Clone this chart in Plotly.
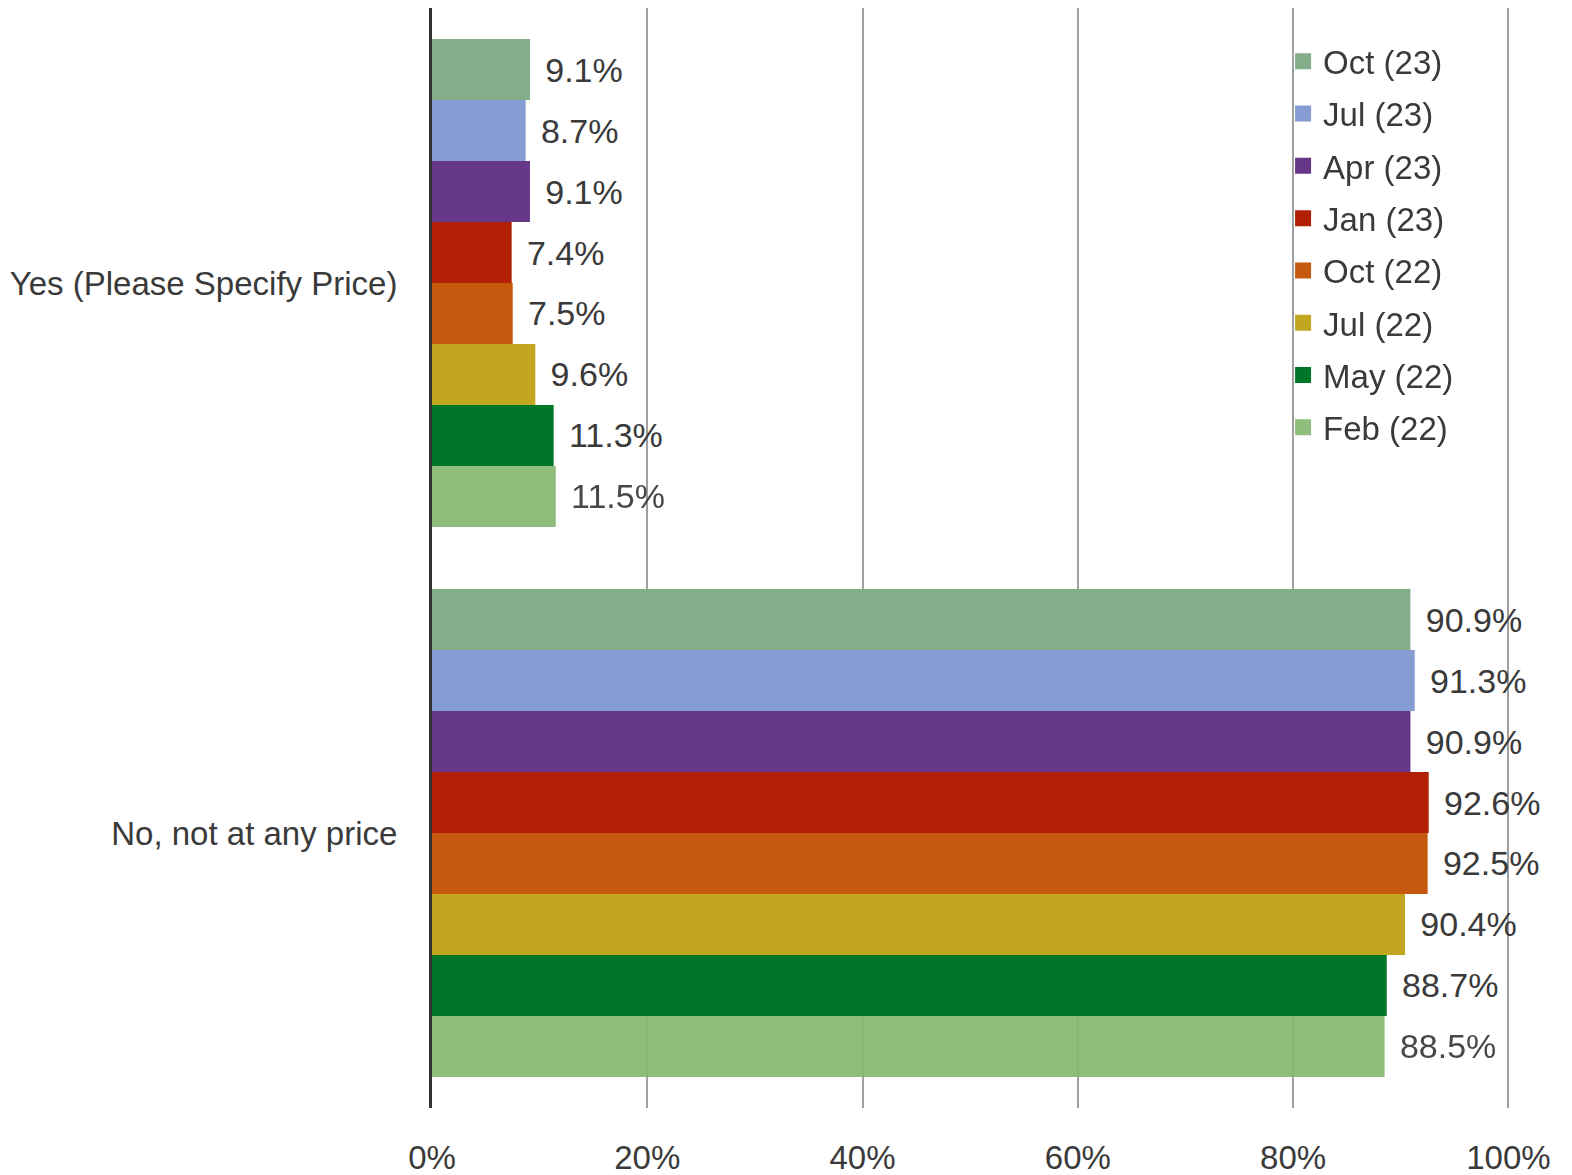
import plotly.graph_objects as go

categories = ["Yes (Please Specify Price)", "No, not at any price"]
series_names = ["Oct (23)", "Jul (23)", "Apr (23)", "Jan (23)", "Oct (22)", "Jul (22)", "May (22)", "Feb (22)"]
yes_values = [9.1, 8.7, 9.1, 7.4, 7.5, 9.6, 11.3, 11.5]
no_values = [90.9, 91.3, 90.9, 92.6, 92.5, 90.4, 88.7, 88.5]
colors = ["#84ae89", "#869dd3", "#673788", "#b11f05", "#c55a0e", "#c3a620", "#007728", "#86b973"]
opacities = [1, 1, 1, 1, 1, 1, 1, 0.93]
x_tickvals = [0, 20, 40, 60, 80, 100]
x_ticktext = ["0%", "20%", "40%", "60%", "80%", "100%"]

FONT = "Liberation Sans, Arial, sans-serif"
TXT = "#3a3a3a"

fig = go.Figure()
for i, name in enumerate(series_names):
    vals = [yes_values[i], no_values[i]]
    fig.add_trace(go.Bar(
        y=categories, x=vals, orientation="h", name=name,
        legendgroup=name, showlegend=False,
        marker=dict(color=colors[i], line=dict(width=0)),
        opacity=opacities[i],
        text=["\u00a0\u200a" + f"{v:.1f}%" for v in vals],
        textposition="outside", cliponaxis=False,
        textfont=dict(family=FONT, size=34, color=TXT),
        constraintext="none",
    ))

# legend proxies (larger square swatches)
for i, name in enumerate(series_names):
    fig.add_trace(go.Scatter(
        x=[None], y=[None], mode="markers", name=name, legendgroup=name,
        showlegend=True,
        marker=dict(symbol="square", size=18, color=colors[i], opacity=opacities[i],
                    line=dict(width=0)),
    ))

fig.update_layout(
    width=1564, height=1167,
    margin=dict(l=424, r=62, t=0, b=67),
    barmode="group", bargap=0.113, bargroupgap=0,
    plot_bgcolor="white", paper_bgcolor="white",
    font=dict(family=FONT, size=33, color=TXT),
    showlegend=True,
    legend=dict(
        x=0.7895, y=0.977, xanchor="left", yanchor="top",
        bgcolor="rgba(0,0,0,0)", traceorder="grouped",
        tracegroupgap=6.4, font=dict(family=FONT, size=33, color=TXT),
    ),
    xaxis=dict(
        range=[0, 100.15], tickvals=x_tickvals, ticktext=x_ticktext,
        showgrid=True, gridcolor="#a0a0a0", gridwidth=2,
        zeroline=False, showline=False, ticks="",
        ticklabelstandoff=27, automargin=False,
        tickfont=dict(family=FONT, size=33, color=TXT),
    ),
    yaxis=dict(
        autorange="reversed", showgrid=False, zeroline=False,
        showline=True, linecolor="#333333", linewidth=3, ticks="",
        ticklabelstandoff=25, automargin=False,
        tickfont=dict(family=FONT, size=33, color=TXT),
    ),
)

fig.write_html("out.html")
